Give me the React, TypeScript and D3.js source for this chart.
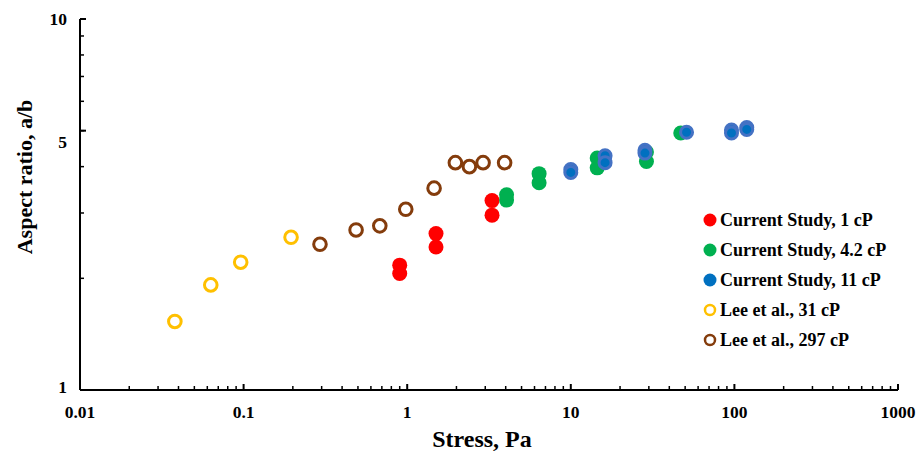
import React from "react";
import * as d3 from "d3";

// stress (Pa) and aspect ratio
const red1x = [0.9, 0.9, 1.5, 1.5, 3.3, 3.3];
const red1y = [2.17, 2.06, 2.64, 2.43, 3.24, 2.96];

const green42x = [4.05, 4.05, 6.4, 6.4, 14.5, 14.5, 29, 29, 47];
const green42y = [3.36, 3.25, 3.83, 3.62, 4.22, 3.97, 4.38, 4.13, 4.93];

const blue11x = [10, 10, 16.2, 16.2, 28.4, 28.4, 51, 96, 96, 119, 119];
const blue11y = [3.93, 3.86, 4.28, 4.1, 4.43, 4.35, 4.95, 5.02, 4.93, 5.1, 5.04];

const lee31x = [0.038, 0.063, 0.096, 0.195];
const lee31y = [1.53, 1.92, 2.21, 2.58];

const lee297x = [0.293, 0.487, 0.68, 0.98, 1.46, 1.97, 2.4, 2.91, 3.94];
const lee297y = [2.47, 2.7, 2.77, 3.07, 3.5, 4.1, 4.0, 4.1, 4.1];

const xTickLabels = ["0.01", "0.1", "1", "10", "100", "1000"];
const yTickLabels = ["1", "5", "10"];

const legendLabels = [
  "Current Study, 1 cP",
  "Current Study, 4.2 cP",
  "Current Study, 11 cP",
  "Lee et al., 31 cP",
  "Lee et al., 297 cP",
];

const W = 921;
const H = 452;
const margin = { top: 19, right: 23, bottom: 62, left: 80 };
const font = "'Liberation Serif', 'Times New Roman', serif";

const App = () => {
  const x = d3
    .scaleLog()
    .domain([0.01, 1000])
    .range([margin.left, W - margin.right]);
  const y = d3
    .scaleLog()
    .domain([1, 10])
    .range([H - margin.bottom, margin.top]);

  const x0 = margin.left;
  const yb = H - margin.bottom;

  // minor ticks 2..9 per decade
  const xMinor: number[] = [];
  for (let e = -2; e < 3; e++) {
    for (let m = 2; m <= 9; m++) xMinor.push(m * Math.pow(10, e));
  }
  const yMinor = d3.range(2, 10);

  const zip = (xs: number[], ys: number[]) => xs.map((v, i) => [v, ys[i]]);

  const series = [
    { pts: zip(red1x, red1y), fill: "#FF0000", stroke: "none", sw: 0, r: 7.5 },
    { pts: zip(green42x, green42y), fill: "#00B050", stroke: "none", sw: 0, r: 7.5 },
    { pts: zip(blue11x, blue11y), fill: "#0070C0", stroke: "#4472C4", sw: 3, r: 6 },
    { pts: zip(lee31x, lee31y), fill: "#fff", stroke: "#FFC000", sw: 3, r: 6.3 },
    { pts: zip(lee297x, lee297y), fill: "#fff", stroke: "#843C0C", sw: 3, r: 6.3 },
  ];

  const legendMarks = [
    { fill: "#FF0000", stroke: "none", sw: 0, r: 6.5 },
    { fill: "#00B050", stroke: "none", sw: 0, r: 6.5 },
    { fill: "#0070C0", stroke: "none", sw: 0, r: 6.5 },
    { fill: "#fff", stroke: "#FFC000", sw: 2.5, r: 5 },
    { fill: "#fff", stroke: "#843C0C", sw: 2.5, r: 5 },
  ];

  return (
    <svg
      width={W}
      height={H}
      style={{ display: "block", position: "absolute", left: 0, top: 0 }}
      fontFamily={font}
    >
      <rect width={W} height={H} fill="#fff" />

      {/* axes */}
      <line x1={x0} x2={x0} y1={margin.top} y2={yb} stroke="#000" strokeWidth={2} />
      <line x1={x0} x2={W - margin.right} y1={yb} y2={yb} stroke="#000" strokeWidth={2} />

      {xMinor.map((v, i) => (
        <line key={"xm" + i} x1={x(v)} x2={x(v)} y1={yb} y2={yb - 4} stroke="#000" strokeWidth={1.5} />
      ))}
      {xTickLabels.map((t) => (
        <g key={"xt" + t}>
          <line x1={x(+t)} x2={x(+t)} y1={yb} y2={yb - 6} stroke="#000" strokeWidth={2} />
          <text
            x={x(+t)}
            y={yb + 28}
            textAnchor="middle"
            fontSize={17.5}
            fontWeight="bold"
          >
            {t}
          </text>
        </g>
      ))}

      {yMinor.map((v) => (
        <line key={"ym" + v} x1={x0} x2={x0 + 4} y1={y(v)} y2={y(v)} stroke="#000" strokeWidth={1.5} />
      ))}
      {yTickLabels.map((t) => (
        <g key={"yt" + t}>
          <line x1={x0} x2={x0 + 6} y1={y(+t)} y2={y(+t)} stroke="#000" strokeWidth={2} />
          <text
            x={x0 - 13}
            y={y(+t) + (t === "5" ? 17 : t === "1" ? 3 : 6)}
            textAnchor="end"
            fontSize={17.5}
            fontWeight="bold"
          >
            {t}
          </text>
        </g>
      ))}

      {/* axis titles */}
      <text x={482} y={447} textAnchor="middle" fontSize={24} fontWeight="bold">
        Stress, Pa
      </text>
      <text
        transform={`translate(32, 177) rotate(-90)`}
        textAnchor="middle"
        fontSize={22}
        fontWeight="bold"
      >
        Aspect ratio, a/b
      </text>

      {/* markers */}
      {series.map((s, si) => (
        <g key={"s" + si}>
          {s.pts.map((p, i) => (
            <circle
              key={i}
              cx={x(p[0])}
              cy={y(p[1])}
              r={s.r}
              fill={s.fill}
              stroke={s.stroke}
              strokeWidth={s.sw}
            />
          ))}
        </g>
      ))}

      {/* legend */}
      {legendLabels.map((l, i) => (
        <g key={"lg" + i} transform={`translate(710, ${220 + i * 30})`}>
          <circle
            r={legendMarks[i].r}
            fill={legendMarks[i].fill}
            stroke={legendMarks[i].stroke}
            strokeWidth={legendMarks[i].sw}
          />
          <text x={10} y={6} fontSize={18} fontWeight="bold">
            {l}
          </text>
        </g>
      ))}
    </svg>
  );
};

export default App;
